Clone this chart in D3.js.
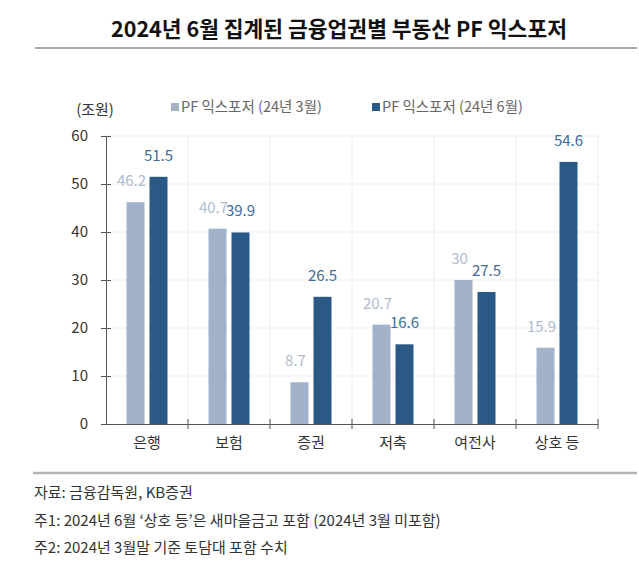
<!DOCTYPE html>
<meta charset="utf-8">
<head>
<style>
  body { margin: 0; background: #fff; }
  text { font-family: "Noto Sans CJK KR", "Noto Sans", sans-serif; }
</style>
</head>
<script src="https://cdn.jsdelivr.net/npm/d3@7"></script>
<body>
<script>

var categories = ["은행", "보험", "증권", "저축", "여전사", "상호 등"];
var seriesNames = ["PF 익스포저 (24년 3월)", "PF 익스포저 (24년 6월)"];
var mar24 = [46.2, 40.7, 8.7, 20.7, 30, 15.9];
var jun24 = [51.5, 39.9, 26.5, 16.6, 27.5, 54.6];
var yTicks = [0, 10, 20, 30, 40, 50, 60];
var notes = [
  "자료: 금융감독원, KB증권",
  "주1: 2024년 6월 ‘상호 등’은 새마을금고 포함 (2024년 3월 미포함)",
  "주2: 2024년 3월말 기준 토담대 포함 수치"
];

var colors = ["#a3b2cb", "#2b5986"];
var labelColors = ["#aebbd0", "#406b96"];

var width = 639, height = 579;
var svg = d3.select("body").append("svg")
    .attr("width", width)
    .attr("height", height);

// title + rules
svg.append("text")
    .attr("x", 339).attr("y", 37)
    .attr("text-anchor", "middle")
    .style("font-size", "21.5px")
    .style("font-weight", "bold")
    .style("fill", "#111")
    .text("2024년 6월 집계된 금융업권별 부동산 PF 익스포저");

svg.append("line").attr("x1", 35).attr("x2", 637).attr("y1", 48).attr("y2", 48)
    .style("stroke", "#a8a8a8").style("stroke-width", 2);
svg.append("line").attr("x1", 33).attr("x2", 637).attr("y1", 473).attr("y2", 473)
    .style("stroke", "#b4b4b4").style("stroke-width", 2.5);

var pLeft = 106, pRight = 598, pTop = 136, pBottom = 424;

var x = d3.scaleBand().domain(categories).range([pLeft, pRight]);
var y = d3.scaleLinear().domain([0, 60]).range([pBottom, pTop]);

var g = svg.append("g");

// grid
g.selectAll(".hgrid").data(yTicks.filter(function(d) { return d > 0; }))
  .enter().append("line")
    .attr("x1", pLeft).attr("x2", pRight)
    .attr("y1", function(d) { return y(d); })
    .attr("y2", function(d) { return y(d); })
    .style("stroke", "#dcdcdc").style("stroke-dasharray", "1,1");

g.selectAll(".vgrid").data(categories)
  .enter().append("line")
    .attr("x1", function(d) { return x(d) + x.bandwidth(); })
    .attr("x2", function(d) { return x(d) + x.bandwidth(); })
    .attr("y1", pTop).attr("y2", pBottom)
    .style("stroke", "#dcdcdc").style("stroke-dasharray", "1,1");

// bars
var barW = 18, gap = 5;
[mar24, jun24].forEach(function(vals, s) {
  var off = s === 0 ? -(barW + gap / 2) : gap / 2;
  g.selectAll(".bar" + s).data(vals)
    .enter().append("rect")
      .attr("x", function(d, i) { return x(categories[i]) + x.bandwidth() / 2 + off; })
      .attr("y", function(d) { return y(d); })
      .attr("width", barW)
      .attr("height", function(d) { return pBottom - y(d); })
      .style("fill", colors[s]);

  g.selectAll(".lab" + s).data(vals)
    .enter().append("text")
      .attr("x", function(d, i) { return x(categories[i]) + x.bandwidth() / 2 + off + barW / 2 + (s === 0 ? -4 : 0); })
      .attr("y", function(d) { return y(d) - 16; })
      .attr("text-anchor", "middle")
      .style("font-size", "15px")
      .style("fill", labelColors[s])
      .text(function(d) { return d; });
});

// y axis
var yAxis = d3.axisLeft(y).tickValues(yTicks).tickSizeInner(5).tickSizeOuter(0).tickPadding(13);
var ya = svg.append("g").attr("transform", "translate(" + pLeft + ",0)").call(yAxis);
ya.selectAll(".tick line").attr("x1", -5).attr("x2", 5);
ya.select(".domain").style("stroke", "#555");
ya.selectAll(".tick line").style("stroke", "#555");
ya.selectAll("text").style("font-size", "15px").style("fill", "#333")
  .style("font-family", "'Noto Sans CJK KR', sans-serif");

// x axis
var xAxis = d3.axisBottom(x).tickSize(0).tickPadding(13);
var xa = svg.append("g").attr("transform", "translate(0," + pBottom + ")").call(xAxis);
xa.select(".domain").style("stroke", "#555");
xa.selectAll("text").style("font-size", "15px").style("fill", "#333")
  .style("font-family", "'Noto Sans CJK KR', sans-serif");
xa.selectAll(".sep").data(categories)
  .enter().append("line")
    .attr("x1", function(d) { return x(d) + x.bandwidth(); })
    .attr("x2", function(d) { return x(d) + x.bandwidth(); })
    .attr("y1", -5).attr("y2", 5)
    .style("stroke", "#555");

// unit
svg.append("text").attr("x", 95).attr("y", 115)
    .attr("text-anchor", "middle")
    .style("font-size", "15px").style("fill", "#333")
    .text("(조원)");

// legend
var legX = [171, 372];
seriesNames.forEach(function(n, i) {
  svg.append("rect").attr("x", legX[i]).attr("y", 103).attr("width", 8).attr("height", 8)
      .style("fill", colors[i]);
  svg.append("text").attr("x", legX[i] + 10).attr("y", 112)
      .style("font-size", "14.5px").style("fill", "#666")
      .text(n);
});

// notes
svg.selectAll(".note").data(notes)
  .enter().append("text")
    .attr("x", 34)
    .attr("y", function(d, i) { return 498 + i * 27.5; })
    .style("font-size", "15px").style("fill", "#333")
    .text(function(d) { return d; });

</script>
</body>
